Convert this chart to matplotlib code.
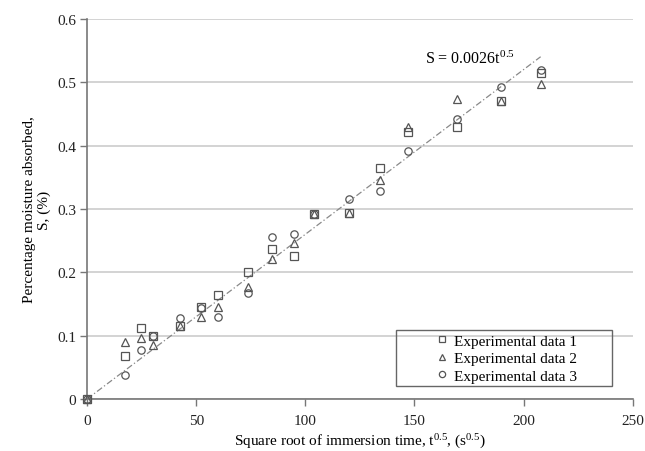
import matplotlib
matplotlib.use("Agg")
import matplotlib.pyplot as plt
from matplotlib.patches import Rectangle

plt.rcParams['font.family'] = ['Liberation Serif', 'DejaVu Serif']
plt.rcParams['mathtext.fontset'] = 'custom'
plt.rcParams['mathtext.rm'] = 'Liberation Serif'
plt.rcParams['mathtext.it'] = 'Liberation Serif:italic'

# square root of immersion time, t^0.5 (s^0.5)
t_sqrt = [0, 17.3, 24.5, 30, 42.4, 52, 60, 73.5, 84.9, 94.9, 103.9, 120, 134.2, 147, 169.7, 189.7, 207.8]
# moisture absorbed S (%)
data1 = [0, 0.068, 0.112, 0.099, 0.115, 0.145, 0.164, 0.200, 0.237, 0.225, 0.292, 0.294, 0.365, 0.421, 0.429, 0.471, 0.514]
data2 = [0, 0.090, 0.097, 0.086, 0.115, 0.129, 0.145, 0.177, 0.221, 0.246, 0.292, 0.294, 0.346, 0.429, 0.474, 0.471, 0.497]
data3 = [0, 0.038, 0.077, 0.099, 0.128, 0.143, 0.129, 0.168, 0.255, 0.260, 0.292, 0.316, 0.329, 0.391, 0.442, 0.493, 0.519]
labels = ["Experimental data 1", "Experimental data 2", "Experimental data 3"]
markers = ["s", "^", "o"]
slope = 0.0026
fit_x = [0, 207.8]

fig = plt.figure(figsize=(6.45, 4.52), dpi=100)
ax = fig.add_axes([0.135, 0.115, 0.846, 0.841])

gray = "#777777"
for ys, m, lab in zip([data1, data2, data3], markers, labels):
    ax.plot(t_sqrt, ys, linestyle="none", marker=m, markersize=5.3,
            markerfacecolor="none", markeredgecolor="#555555", markeredgewidth=0.9,
            label=lab, zorder=3, clip_on=False)

ax.plot(fit_x, [slope * v for v in fit_x], linestyle=(0, (5, 2, 1, 2)), color="#888888",
        linewidth=0.9, zorder=2)
ax.text(175.5, 0.537, "S = 0.0026t$\\mathregular{^{0.5}}$", ha="center", va="center", fontsize=11.5)

ax.set_xlim(0, 250)
ax.set_ylim(0, 0.6)
ax.set_xticks([0, 50, 100, 150, 200, 250])
ax.set_yticks([0, 0.1, 0.2, 0.3, 0.4, 0.5, 0.6])
ax.set_yticklabels(["0", "0.1", "0.2", "0.3", "0.4", "0.5", "0.6"])
ax.yaxis.grid(True, color="#cccccc", linewidth=1.2)
ax.set_axisbelow(True)
for s in ["top", "right"]:
    ax.spines[s].set_visible(False)
for s in ["left", "bottom"]:
    ax.spines[s].set_color(gray)
    ax.spines[s].set_linewidth(1.2)
ax.tick_params(direction="out", color=gray, length=5, width=1, labelsize=11, labelcolor="#222222")
ax.tick_params(axis="y", pad=3)
ax.tick_params(axis="x", pad=6)

ax.set_xlabel("Square root of immersion time, t$\\mathregular{^{0.5}}$, (s$\\mathregular{^{0.5}}$)",
              fontsize=11, labelpad=3)
ax.set_ylabel("Percentage moisture absorbed,\nS, (%)", fontsize=11, labelpad=4)

leg = ax.legend(loc="center", bbox_to_anchor=(0.768, 0.107), frameon=False, fontsize=11,
                handlelength=0.8, handletextpad=0.4, labelspacing=0.25, markerscale=0.85)
ax.add_patch(Rectangle((0.566, 0.033), 0.396, 0.149, transform=ax.transAxes, fill=False,
                       edgecolor="#666666", linewidth=1.0, zorder=5, clip_on=False))

fig.savefig("out.png", dpi=100)
